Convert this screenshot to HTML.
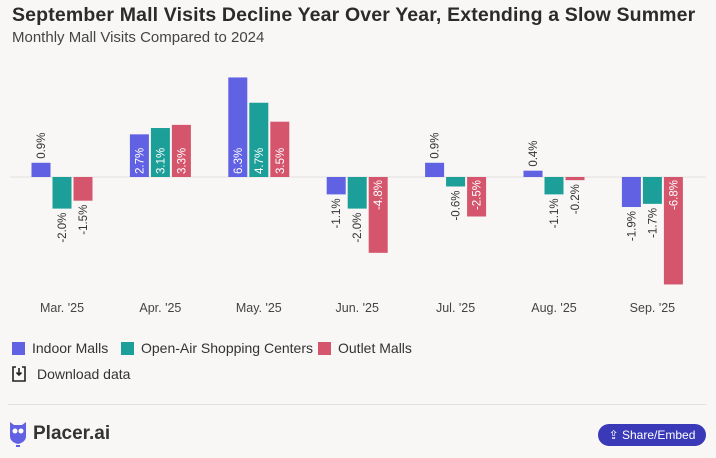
<!DOCTYPE html>
<html><head><meta charset="utf-8"><style>
body{margin:0;background:#f8f7f6;font-family:"Liberation Sans",sans-serif;width:716px;height:458px;overflow:hidden;position:relative;color:#222}
.t{position:absolute;left:12px;top:4px;font-size:19.5px;font-weight:bold;color:#2b2b2b;letter-spacing:0.15px}
.s{position:absolute;left:12px;top:29px;font-size:15px;color:#444}
.leg{position:absolute;top:340px;font-size:14px;color:#333;display:flex;align-items:center}
.sw{width:13px;height:13px;display:inline-block;margin-right:7px}
</style></head><body>
<div class="t">September Mall Visits Decline Year Over Year, Extending a Slow Summer</div>
<div class="s">Monthly Mall Visits Compared to 2024</div>
<svg id="c" width="716" height="330" style="position:absolute;left:0;top:0"></svg>
<div class="leg" style="left:12px"><span class="sw" style="background:#6161e3"></span>Indoor Malls</div>
<div class="leg" style="left:121px"><span class="sw" style="background:#1d9f99"></span>Open-Air Shopping Centers</div>
<div class="leg" style="left:318px"><span class="sw" style="background:#d5566c"></span>Outlet Malls</div>
<div class="leg" style="left:12px;top:366px"><svg width="14" height="16" style="margin-right:11px"><path d="M4 1H1V15H13V1H10M7 2V9M4.5 6.5L7 9L9.5 6.5" fill="none" stroke="#222" stroke-width="1.6"/></svg>Download data</div>
<div style="position:absolute;left:8px;top:404px;width:698px;height:1px;background:#e2e0de"></div>
<div style="position:absolute;left:9px;top:420px;display:flex;align-items:center;font-size:19px;font-weight:bold;color:#333"><svg width="18" height="28" style="margin-right:6px"><path d="M1 2L5 5H13L17 2V16Q17 22 9 24Q1 22 1 16Z" fill="#6161e3"/><circle cx="6" cy="11" r="2.5" fill="#fff"/><circle cx="12" cy="11" r="2.5" fill="#fff"/><rect x="7" y="25" width="4" height="2" fill="#6161e3"/></svg>Placer.ai</div>
<div style="position:absolute;left:598px;top:424px;width:108px;height:22px;border-radius:11px;background:#3a3ab8;color:#fff;font-size:12px;display:flex;align-items:center;justify-content:center">⇪ Share/Embed</div>
<script>
const categories=["Mar. '25","Apr. '25","May. '25","Jun. '25","Jul. '25","Aug. '25","Sep. '25"];
const indoor=[0.9,2.7,6.3,-1.1,0.9,0.4,-1.9];
const openAir=[-2.0,3.1,4.7,-2.0,-0.6,-1.1,-1.7];
const outlet=[-1.5,3.3,3.5,-4.8,-2.5,-0.2,-6.8];
const series=[indoor,openAir,outlet];
const colors=["#6161e3","#1d9f99","#d5566c"];
const names=["indoor","open-air","outlet"];
const svg=document.getElementById('c');
const NS="http://www.w3.org/2000/svg";
const zeroY=177,scale=15.8,x0=62,step=98.4,bw=19,gap=2;
const y=v=>zeroY-v*scale;
const xc=i=>x0+i*step;
function mk(t,a){const e=document.createElementNS(NS,t);for(const k in a)e.setAttribute(k,a[k]);svg.appendChild(e);return e;}
const zl=mk('line',{x1:10,x2:706,y1:zeroY,y2:zeroY,stroke:'#e4e2e0'});


categories.forEach((c,i)=>{
  const lab=mk('text',{x:xc(i),y:312,'text-anchor':'middle','font-size':12.5,fill:'#444'});
  lab.textContent=c;
  
  
  series.forEach((s,j)=>{
    const v=s[i];
    const bx=xc(i)-1.5*bw-gap+j*(bw+gap);
    const r=mk('rect',{x:bx,y:Math.min(y(v),zeroY),width:bw,height:Math.abs(v)*scale,fill:colors[j]});
    
    
    const inside=Math.abs(v)>=2.5;
    const cx=bx+bw/2+4;
    let ty,anchor;
    if(inside){ty=v>0?zeroY-3:zeroY+3;anchor=v>0?'start':'end';}
    else{ty=v>0?y(v)-4:y(v)+4;anchor=v>0?'start':'end';}
    const t=mk('text',{x:cx,y:ty,'font-size':11.5,fill:inside?'#fff':'#333','text-anchor':anchor,transform:`rotate(-90 ${cx} ${ty})`});
    t.textContent=v.toFixed(1)+'%';
    
    
  });
});
</script>
</body></html>
